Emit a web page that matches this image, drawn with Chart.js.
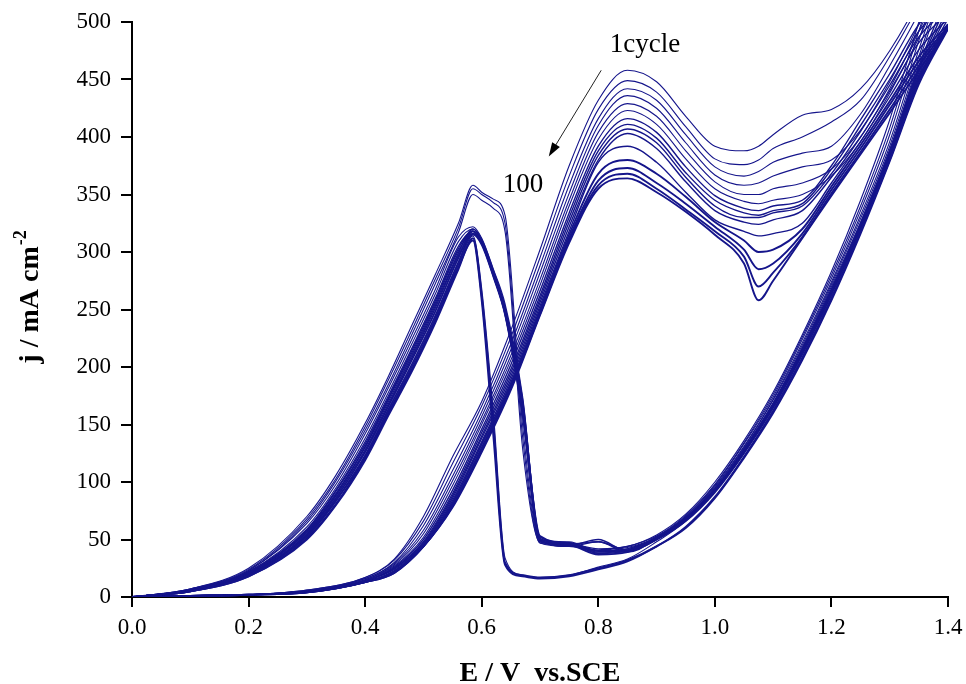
<!DOCTYPE html>
<html>
<head>
<meta charset="utf-8">
<script src="https://cdn.jsdelivr.net/npm/chart.js@4.4.1/dist/chart.umd.min.js"></script>
<style>
  html, body { margin: 0; padding: 0; background: #fff; }
</style>
</head>
<body>
<canvas id="cv" width="966" height="684"></canvas>
<script>
// Potential grids (V vs. SCE) for the anodic and cathodic sweeps
const potentialFwd = [0, 0.1, 0.2, 0.3, 0.4, 0.45, 0.5, 0.55, 0.6, 0.65, 0.7, 0.75, 0.8, 0.85, 0.9, 0.95, 1.0, 1.05, 1.075, 1.1, 1.15, 1.2, 1.25, 1.3, 1.35, 1.4];
const potentialRev = [1.4, 1.35, 1.3, 1.25, 1.2, 1.15, 1.1, 1.05, 1.0, 0.95, 0.9, 0.85, 0.8, 0.75, 0.7, 0.67, 0.64, 0.62, 0.6, 0.585, 0.56, 0.52, 0.48, 0.44, 0.4, 0.35, 0.3, 0.2, 0.1, 0];

// Current density j (mA cm-2) for a set of cycles
const c1Fwd   = [0, 1, 2, 6, 17, 33, 70, 122, 170, 232, 302, 375, 432, 458, 448, 418, 392, 388, 392, 402, 419, 424, 442, 475, 520, 580];
const c1Rev   = [580, 500, 415, 345, 283, 228, 178, 136, 100, 72, 54, 44, 42, 46, 48, 150, 332, 346, 352, 358, 325, 280, 236, 192, 151, 106, 70, 25, 7, 0];
const c2Fwd   = [0, 1, 2, 6, 17, 32, 66, 116, 166, 226, 295, 366, 424, 449, 439, 409, 381, 376, 380, 390, 400, 413, 432, 470, 515, 570];
const c2Rev   = [570, 492, 408, 340, 280, 226, 176, 134, 98, 71, 53, 44, 41, 45, 47, 140, 325, 343, 350, 355, 321, 276, 232, 189, 148, 103, 68, 24, 7, 0];
const c3Fwd   = [0, 1, 2, 5, 16, 30, 62, 110, 161, 220, 288, 358, 416, 442, 432, 402, 374, 366, 370, 378, 386, 392, 420, 462, 508, 560];
const c3Rev   = [560, 484, 402, 336, 277, 224, 174, 133, 97, 70, 52, 43, 40, 44, 47, 130, 318, 338, 345, 350, 317, 272, 228, 185, 145, 101, 66, 23, 7, 0];
const c4Fwd   = [0, 1, 2, 5, 16, 29, 58, 105, 157, 215, 282, 351, 410, 436, 425, 395, 367, 358, 360, 366, 374, 380, 406, 448, 498, 550];
const c4Rev   = [550, 476, 396, 332, 274, 221, 172, 131, 96, 69, 52, 42, 40, 48, 50, 175, 255, 285, 312, 322, 313, 267, 224, 182, 142, 98, 64, 23, 6, 0];
const c5Fwd   = [0, 1, 2, 5, 15, 28, 55, 101, 153, 210, 276, 345, 404, 429, 418, 388, 361, 350, 350, 355, 360, 372, 400, 442, 492, 545];
const c5Rev   = [545, 470, 392, 329, 272, 219, 171, 130, 95, 68, 51, 42, 38, 47, 50, 168, 252, 283, 310, 320, 309, 263, 220, 178, 138, 95, 61, 22, 6, 0];
const c6Fwd   = [0, 1, 2, 5, 15, 27, 52, 97, 150, 206, 271, 340, 398, 423, 411, 381, 355, 344, 342, 345, 350, 366, 396, 438, 486, 540];
const c6Rev   = [540, 466, 389, 326, 270, 217, 169, 129, 93, 66, 48, 33, 26, 19, 17, 19, 34, 160, 268, 314, 289, 242, 200, 161, 122, 83, 52, 19, 5, 0];
const c8Fwd   = [0, 1, 2, 5, 14, 26, 50, 93, 146, 202, 266, 334, 392, 416, 404, 374, 349, 338, 336, 340, 345, 375, 415, 455, 498, 525];
const c8Rev   = [525, 462, 388, 325, 268, 216, 168, 128, 94, 69, 52, 41, 48, 46, 49, 165, 250, 282, 309, 318, 305, 259, 216, 175, 135, 93, 59, 22, 6, 0];
const c10Fwd  = [0, 1, 2, 5, 14, 25, 48, 90, 143, 198, 262, 330, 388, 411, 399, 369, 345, 334, 332, 336, 342, 372, 410, 450, 492, 518];
const c10Rev  = [518, 460, 387, 324, 267, 215, 168, 128, 94, 69, 52, 41, 39, 47, 52, 170, 248, 280, 308, 318, 303, 257, 214, 173, 133, 92, 58, 21, 6, 0];
const c15Fwd  = [0, 1, 2, 5, 14, 25, 47, 88, 140, 195, 259, 326, 384, 407, 395, 365, 340, 330, 330, 334, 340, 368, 405, 445, 487, 512];
const c15Rev  = [512, 458, 386, 323, 266, 214, 167, 127, 93, 68, 51, 40, 50, 45, 48, 160, 246, 279, 307, 316, 301, 255, 212, 172, 131, 90, 57, 21, 6, 0];
const c20Fwd  = [0, 1, 2, 4, 14, 24, 46, 86, 138, 192, 256, 322, 380, 403, 390, 361, 336, 326, 324, 328, 336, 365, 400, 440, 482, 508];
const c20Rev  = [508, 456, 386, 323, 266, 214, 167, 127, 93, 68, 51, 40, 38, 46, 51, 172, 252, 284, 311, 320, 299, 253, 210, 170, 130, 89, 56, 21, 6, 0];
const c30Fwd  = [0, 1, 2, 4, 13, 23, 45, 84, 135, 189, 253, 318, 378, 392, 378, 352, 328, 318, 314, 316, 325, 360, 396, 435, 476, 503];
const c30Rev  = [503, 454, 385, 322, 265, 213, 166, 126, 92, 67, 50, 39, 48, 44, 50, 158, 245, 278, 306, 315, 297, 251, 208, 168, 128, 88, 55, 20, 6, 0];
const c45Fwd  = [0, 1, 2, 4, 13, 22, 44, 82, 133, 186, 250, 315, 368, 380, 368, 348, 326, 310, 300, 302, 320, 357, 393, 431, 470, 498];
const c45Rev  = [498, 452, 384, 321, 264, 212, 165, 126, 92, 67, 50, 40, 40, 47, 53, 165, 250, 282, 309, 318, 295, 248, 206, 166, 126, 86, 54, 20, 5, 0];
const c60Fwd  = [0, 1, 2, 4, 13, 22, 44, 80, 130, 184, 248, 312, 362, 373, 360, 342, 322, 302, 285, 290, 316, 354, 390, 428, 466, 496];
const c60Rev  = [496, 448, 380, 318, 260, 208, 162, 122, 87, 61, 44, 32, 25, 19, 17, 19, 30, 150, 262, 312, 285, 238, 196, 158, 119, 80, 50, 18, 5, 0];
const c80Fwd  = [0, 1, 2, 4, 13, 21, 44, 79, 128, 182, 246, 310, 358, 368, 355, 337, 318, 296, 270, 282, 313, 351, 387, 424, 462, 495];
const c80Rev  = [495, 450, 383, 320, 263, 211, 165, 125, 91, 66, 50, 39, 37, 45, 49, 162, 247, 280, 308, 316, 291, 244, 202, 163, 123, 84, 53, 19, 5, 0];
const c100Fwd = [0, 1, 2, 4, 13, 21, 44, 78, 126, 180, 245, 308, 355, 364, 352, 335, 315, 290, 258, 275, 312, 349, 385, 421, 458, 494];
const c100Rev = [494, 446, 379, 316, 258, 206, 160, 121, 86, 60, 44, 31, 24, 18, 16, 18, 28, 140, 258, 310, 287, 240, 198, 160, 121, 81, 51, 18, 5, 0];

const cycleNames = ['1', '2', '3', '4', '5', '6', '8', '10', '15', '20', '30', '45', '60', '80', '100'];
const fwdCurves = [c1Fwd, c2Fwd, c3Fwd, c4Fwd, c5Fwd, c6Fwd, c8Fwd, c10Fwd, c15Fwd, c20Fwd, c30Fwd, c45Fwd, c60Fwd, c80Fwd, c100Fwd];
const revCurves = [c1Rev, c2Rev, c3Rev, c4Rev, c5Rev, c6Rev, c8Rev, c10Rev, c15Rev, c20Rev, c30Rev, c45Rev, c60Rev, c80Rev, c100Rev];

const xTicks = [0, 0.2, 0.4, 0.6, 0.8, 1.0, 1.2, 1.4];
const yTicks = [0, 50, 100, 150, 200, 250, 300, 350, 400, 450, 500];

const lineColor = '#15158b';
const serif = '"Liberation Serif", "Times New Roman", serif';

function toPoints(xs, ys) {
    return xs.map((x, i) => ({ x: x, y: ys[i] }));
}

const datasets = [];
cycleNames.forEach((name, i) => {
    // later cycles pile up into the dense bands
    const width = i < 6 ? 1.1 : (i < 11 ? 1.4 : 1.9);
    [['fwd', potentialFwd, fwdCurves[i]], ['rev', potentialRev, revCurves[i]]].forEach(([dir, xs, ys]) => {
        datasets.push({
            label: 'cycle ' + name + ' ' + dir,
            data: toPoints(xs, ys),
            borderColor: lineColor,
            borderWidth: width,
            pointRadius: 0,
            fill: false,
            cubicInterpolationMode: 'monotone'
        });
    });
});

// axis titles, the "1cycle"/"100" labels and the arrow
const decorations = {
    id: 'decorations',
    afterDraw(chart) {
        const ctx = chart.ctx;
        const area = chart.chartArea;
        const xs = chart.scales.x;
        const ys = chart.scales.y;
        ctx.save();
        ctx.fillStyle = '#000';

        ctx.font = 'bold 28px ' + serif;
        ctx.textAlign = 'center';
        ctx.textBaseline = 'alphabetic';
        ctx.fillText('E / V  vs.SCE', (area.left + area.right) / 2, 681);

        // y title with superscript
        ctx.save();
        ctx.translate(38, (area.top + area.bottom) / 2 - 12);
        ctx.rotate(-Math.PI / 2);
        const main = 'j / mA cm';
        const sup = '-2';
        ctx.font = 'bold 28px ' + serif;
        const wMain = ctx.measureText(main).width;
        ctx.font = 'bold 18px ' + serif;
        const wSup = ctx.measureText(sup).width;
        const start = -(wMain + wSup) / 2;
        ctx.textAlign = 'left';
        ctx.font = 'bold 28px ' + serif;
        ctx.fillText(main, start, 0);
        ctx.font = 'bold 18px ' + serif;
        ctx.fillText(sup, start + wMain + 1, -12);
        ctx.restore();

        ctx.font = '27px ' + serif;
        ctx.textAlign = 'center';
        ctx.textBaseline = 'middle';
        ctx.fillText('1cycle', xs.getPixelForValue(0.88), ys.getPixelForValue(480));
        ctx.fillText('100', xs.getPixelForValue(0.671), ys.getPixelForValue(358));

        const x0 = xs.getPixelForValue(0.805), y0 = ys.getPixelForValue(458);
        const x1 = xs.getPixelForValue(0.715), y1 = ys.getPixelForValue(383);
        const ang = Math.atan2(y1 - y0, x1 - x0);
        ctx.strokeStyle = '#222';
        ctx.lineWidth = 1;
        ctx.beginPath();
        ctx.moveTo(x0, y0);
        ctx.lineTo(x1 - 10 * Math.cos(ang), y1 - 10 * Math.sin(ang));
        ctx.stroke();
        ctx.beginPath();
        ctx.moveTo(x1, y1);
        ctx.lineTo(x1 - 14 * Math.cos(ang) + 4.5 * Math.sin(ang), y1 - 14 * Math.sin(ang) - 4.5 * Math.cos(ang));
        ctx.lineTo(x1 - 14 * Math.cos(ang) - 4.5 * Math.sin(ang), y1 - 14 * Math.sin(ang) + 4.5 * Math.cos(ang));
        ctx.closePath();
        ctx.fill();
        ctx.restore();
    }
};

new Chart(document.getElementById('cv').getContext('2d'), {
    type: 'line',
    data: { datasets: datasets },
    options: {
        responsive: false,
        animation: false,
        layout: { padding: { top: 22, right: 18, left: 0, bottom: 0 } },
        plugins: {
            legend: { display: false },
            tooltip: { enabled: false }
        },
        scales: {
            x: {
                type: 'linear',
                min: 0,
                max: 1.4,
                afterFit: scale => {
                    scale.height = 87;
                    scale.paddingLeft = 0;
                    scale.paddingRight = 0;
                },
                afterBuildTicks: scale => { scale.ticks = xTicks.map(v => ({ value: v })); },
                border: { display: true, color: '#000', width: 2 },
                grid: { display: true, drawOnChartArea: false, drawTicks: true, tickLength: 10, color: '#000', lineWidth: 2 },
                ticks: {
                    color: '#000',
                    padding: 7,
                    font: { family: serif, size: 23 },
                    callback: v => Number(v).toFixed(1)
                }
            },
            y: {
                type: 'linear',
                min: 0,
                max: 500,
                afterFit: scale => {
                    scale.width = 132;
                    scale.paddingTop = 0;
                    scale.paddingBottom = 0;
                },
                afterBuildTicks: scale => { scale.ticks = yTicks.map(v => ({ value: v })); },
                border: { display: true, color: '#000', width: 2 },
                grid: { display: true, drawOnChartArea: false, drawTicks: true, tickLength: 11, color: '#000', lineWidth: 2 },
                ticks: {
                    color: '#000',
                    padding: 10,
                    font: { family: serif, size: 23 }
                }
            }
        }
    },
    plugins: [decorations]
});
</script>
</body>
</html>
